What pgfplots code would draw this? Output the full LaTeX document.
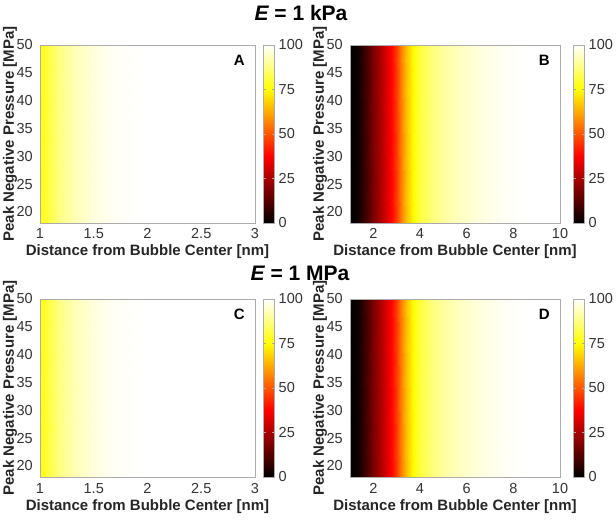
\documentclass[border=0pt]{standalone}
\usepackage{pgfplots}
\pgfplotsset{compat=1.18}
\usepackage{pgfplotstable}
\usepackage{fontspec}
\setmainfont{Liberation Sans}

% Panel A / C : distance 1..3 nm
\pgfplotstableread{
x y v
1.00 18 76
1.03 18 78
1.06 18 80
1.10 18 83
1.15 18 86
1.20 18 88.5
1.25 18 90.5
1.30 18 92
1.40 18 94.5
1.50 18 96.5
1.60 18 98
1.70 18 99
1.80 18 99.5
1.90 18 99.8
2.00 18 100
3.00 18 100
1.00 50 76
1.03 50 78
1.06 50 80
1.10 50 83
1.15 50 86
1.20 50 88.5
1.25 50 90.5
1.30 50 92
1.40 50 94.5
1.50 50 96.5
1.60 50 98
1.70 50 99
1.80 50 99.5
1.90 50 99.8
2.00 50 100
3.00 50 100
}\dataA

% Panel B / D : distance 1..10 nm
\pgfplotstableread{
x y v
1.0 18 0
1.2 18 1
1.4 18 3
1.6 18 8
1.8 18 13
2.0 18 18
2.2 18 23
2.4 18 28
2.6 18 33
2.8 18 39
3.0 18 47
3.2 18 56
3.4 18 65
3.6 18 72
3.8 18 77
4.0 18 81
4.5 18 87
5.0 18 90.5
5.5 18 93
6.0 18 95
6.5 18 96.5
7.0 18 97.8
7.5 18 98.8
8.0 18 99.5
8.5 18 99.9
9.0 18 100
10.0 18 100
1.0 50 0
1.2 50 1
1.4 50 3
1.6 50 8
1.8 50 13
2.0 50 18
2.2 50 23
2.4 50 28
2.6 50 33
2.8 50 39
3.0 50 47
3.2 50 56
3.4 50 65
3.6 50 72
3.8 50 77
4.0 50 81
4.5 50 87
5.0 50 90.5
5.5 50 93
6.0 50 95
6.5 50 96.5
7.0 50 97.8
7.5 50 98.8
8.0 50 99.5
8.5 50 99.9
9.0 50 100
10.0 50 100
}\dataB

\tikzset{
  letter/.style={anchor=north east, inner sep=0pt, xshift=-10bp, yshift=-10bp, font=\fontsize{15bp}{18bp}\selectfont\bfseries},
}

\pgfplotsset{
  colormap={mhot}{rgb255(0cm)=(0,0,0); rgb255(3cm)=(255,0,0); rgb255(6cm)=(255,255,0); rgb255(8cm)=(255,255,255)},
  panel/.style={
    scale only axis, height=178bp, anchor=south west,
    axis on top,
    axis line style={gray!65, line width=0.6bp},
    major tick length=0pt,
    ymin=18, ymax=50, ytick={20,25,...,50},
    tick label style={font=\fontsize{14.5bp}{17bp}\selectfont, text=black!80},
    /pgf/number format/assume math mode=true,
    xticklabel style={anchor=base, yshift=-16bp, inner sep=0pt},
    yticklabel style={anchor=east, inner sep=0pt, xshift=-7bp},
    label style={font=\fontsize{15bp}{18bp}\selectfont\bfseries, text=black!85},
    xlabel={Distance from Bubble Center [nm]},
    ylabel={Peak Negative Pressure [MPa]},
    xlabel style={at={(axis description cs:0.5,0)}, anchor=base, yshift=-33bp},
    ylabel style={at={([xshift=-30bp]axis description cs:0,0.5)}, anchor=center},
    point meta min=0, point meta max=100,
    colorbar,
    colorbar style={
      at={(parent axis.north east)}, anchor=north west,
      width=11bp,
      axis line style={gray!65, line width=0.6bp},
      ytick={0,25,50,75,100},
      major tick length=2.5bp,
      tick style={gray!70},
      /pgf/number format/assume math mode=true,
      yticklabel style={font=\fontsize{14.5bp}{17bp}\selectfont, text=black!80, anchor=west, inner sep=0pt, xshift=4bp},
    },
  },
}

\begin{document}
\begin{tikzpicture}
\useasboundingbox (0,0) rectangle (616bp,520bp);

\node[font=\fontsize{21bp}{24bp}\selectfont\bfseries] at (301bp,507bp) {\itshape E\upshape{} = 1 kPa};
\node[font=\fontsize{21bp}{24bp}\selectfont\bfseries] at (300bp,247bp) {\itshape E\upshape{} = 1 MPa};

% A
\begin{axis}[panel, at={(40bp,297bp)}, width=215bp, xmin=1, xmax=3, xtick={1,1.5,2,2.5,3},
  colorbar style={xshift=0bp}]
\addplot[surf, shader=interp, mesh/cols=16, point meta=explicit] table[x=x, y=y, meta=v] {\dataA};
\node[letter] at (rel axis cs:1,1) {A};
\end{axis}

% B
\begin{axis}[panel, at={(350bp,297bp)}, width=210bp, xmin=1, xmax=10, xtick={2,4,6,8,10},
  colorbar style={xshift=5bp}]
\addplot[surf, shader=interp, mesh/cols=27, point meta=explicit] table[x=x, y=y, meta=v] {\dataB};
\node[letter] at (rel axis cs:1,1) {B};
\end{axis}

% C
\begin{axis}[panel, at={(40bp,43bp)}, width=215bp, xmin=1, xmax=3, xtick={1,1.5,2,2.5,3},
  colorbar style={xshift=0bp}]
\addplot[surf, shader=interp, mesh/cols=16, point meta=explicit] table[x=x, y=y, meta=v] {\dataA};
\node[letter] at (rel axis cs:1,1) {C};
\end{axis}

% D
\begin{axis}[panel, at={(350bp,43bp)}, width=210bp, xmin=1, xmax=10, xtick={2,4,6,8,10},
  colorbar style={xshift=5bp}]
\addplot[surf, shader=interp, mesh/cols=27, point meta=explicit] table[x=x, y=y, meta=v] {\dataB};
\node[letter] at (rel axis cs:1,1) {D};
\end{axis}
\end{tikzpicture}
\end{document}
